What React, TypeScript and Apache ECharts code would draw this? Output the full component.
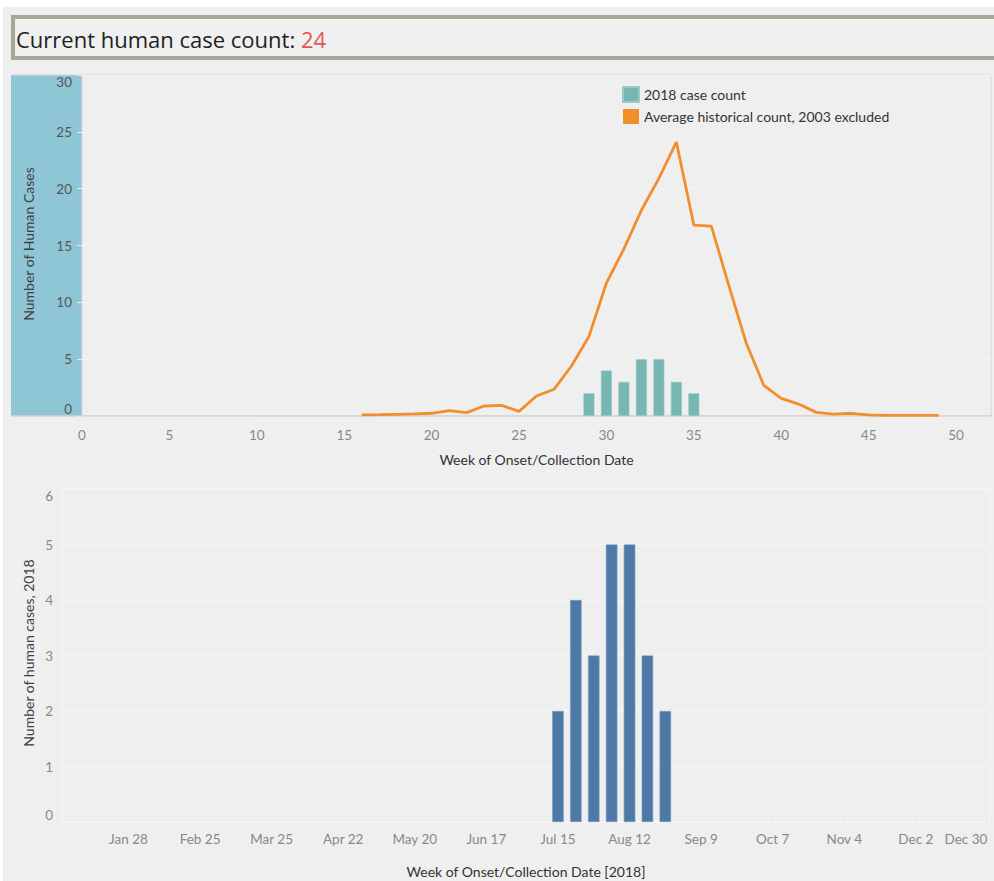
import React, { useEffect, useRef } from "react";
import * as echarts from "echarts";

// ---- Data ----
const caseTotal = 24;

// Top chart: week numbers
const histWeeks = [16, 17, 18, 19, 20, 21, 22, 23, 24, 25, 26, 27, 28, 29, 30, 31, 32, 33, 34, 35, 36, 37, 38, 39, 40, 41, 42, 43, 44, 45, 46, 47, 48, 49];
const histAvg = [0.1, 0.12, 0.15, 0.18, 0.24, 0.47, 0.3, 0.88, 0.94, 0.41, 1.76, 2.35, 4.4, 7.0, 11.7, 14.7, 18.1, 20.9, 24.1, 16.8, 16.7, 11.5, 6.4, 2.7, 1.55, 1.05, 0.32, 0.17, 0.24, 0.1, 0.05, 0.05, 0.05, 0.05];
const weeks2018 = [29, 30, 31, 32, 33, 34, 35];
const cases2018 = [2, 4, 3, 5, 5, 3, 2];

// Bottom chart: week start dates (2018)
const weekDates2018 = ["2018-07-15", "2018-07-22", "2018-07-29", "2018-08-05", "2018-08-12", "2018-08-19", "2018-08-26"];
const dateTickLabels = ["2018-01-28", "2018-02-25", "2018-03-25", "2018-04-22", "2018-05-20", "2018-06-17", "2018-07-15", "2018-08-12", "2018-09-09", "2018-10-07", "2018-11-04", "2018-12-02", "2018-12-30"];
const dateAxisMin = "2018-01-02";
const dateAxisMax = "2018-12-31";

const MONTHS = ["Jan", "Feb", "Mar", "Apr", "May", "Jun", "Jul", "Aug", "Sep", "Oct", "Nov", "Dec"];

const toTs = (s: string) => {
  const [y, m, d] = s.split("-").map(Number);
  return Date.UTC(y, m - 1, d);
};
const fmtDate = (v: number) => {
  const d = new Date(v);
  return MONTHS[d.getUTCMonth()] + " " + d.getUTCDate();
};

const FONT = "Lato, 'Open Sans', sans-serif";
const HEAD_FONT = "'Open Sans', Lato, sans-serif";

export default function App() {
  const ref = useRef<HTMLDivElement>(null);

  useEffect(() => {
    if (!ref.current) return;
    const chart = echarts.init(ref.current, null, { renderer: "svg" });

    const option: any = {
      animation: false,
      backgroundColor: "#ffffff",
      textStyle: { fontFamily: FONT },
      graphic: [
        { type: "rect", z: -10, shape: { x: 3, y: 7, width: 1000, height: 880 }, style: { fill: "#efefef" }, silent: true },
        { type: "rect", z: -9, shape: { x: 13, y: 17, width: 1000, height: 41 }, style: { fill: "#f0f0f0", stroke: "#aba699", lineWidth: 4 }, silent: true },
        {
          type: "text",
          x: 16,
          y: 39,
          style: {
            text: "{a|Current human case count: }{b|" + caseTotal + "}",
            textVerticalAlign: "middle",
            rich: {
              a: { fontSize: 22, fontFamily: HEAD_FONT, fill: "#222222", color: "#222222" },
              b: { fontSize: 22, fontFamily: HEAD_FONT, fill: "#e15759", color: "#e15759" },
            },
          },
        },
        // top band behind y axis
        { type: "rect", z: -8, shape: { x: 11, y: 75, width: 71, height: 341 }, style: { fill: "#8ec6d6" }, silent: true },
        { type: "line", z: -7, shape: { x1: 11, y1: 75, x2: 82, y2: 75 }, style: { stroke: "#d6d6d6", lineWidth: 1 }, silent: true },
        { type: "line", z: -7, shape: { x1: 11, y1: 416, x2: 82, y2: 416 }, style: { stroke: "#d3d3d3", lineWidth: 1.5 }, silent: true },
        {
          type: "text",
          x: 28,
          y: 244,
          rotation: Math.PI / 2,
          style: { text: "Number of Human Cases", fontSize: 14, fontFamily: FONT, fill: "#404040", textAlign: "center", textVerticalAlign: "middle" },
        },
        {
          type: "text",
          x: 28,
          y: 653,
          rotation: Math.PI / 2,
          style: { text: "Number of human cases, 2018", fontSize: 14, fontFamily: FONT, fill: "#404040", textAlign: "center", textVerticalAlign: "middle" },
        },
      ],
      legend: {
        left: 622,
        top: 86,
        padding: 0,
        orient: "vertical",
        itemWidth: 16,
        itemHeight: 15,
        itemGap: 6,
        icon: "rect",
        textStyle: { fontSize: 14, color: "#333333", fontFamily: FONT },
        data: [
          { name: "2018 case count", icon: "rect", itemStyle: { color: "#76b7b2" } },
          { name: "Average historical count, 2003 excluded", icon: "rect", itemStyle: { color: "#f28e2b" } },
        ],
      },
      grid: [
        { left: 82, top: 75, width: 909, height: 341, show: true, borderColor: "#d6d6d6", borderWidth: 1, backgroundColor: "transparent" },
        { left: 62, top: 489, width: 928, height: 333, show: true, borderColor: "#f6f6f6", borderWidth: 1, backgroundColor: "transparent" },
      ],
      xAxis: [
        {
          gridIndex: 0,
          type: "value",
          min: 0,
          max: 52,
          interval: 5,
          name: "Week of Onset/Collection Date",
          nameLocation: "middle",
          nameGap: 36,
          nameTextStyle: { fontSize: 14, color: "#333333", fontFamily: FONT },
          axisLine: { show: true, lineStyle: { color: "#d3d3d3", width: 1.5 } },
          axisTick: { show: false },
          splitLine: { show: false },
          axisLabel: { fontSize: 13.5, color: "#888888", margin: 12, showMaxLabel: false, fontFamily: FONT },
        },
        {
          gridIndex: 1,
          type: "value",
          min: toTs(dateAxisMin),
          max: toTs(dateAxisMax),
          name: "Week of Onset/Collection Date [2018]",
          nameLocation: "middle",
          nameGap: 42,
          nameTextStyle: { fontSize: 14, color: "#333333", fontFamily: FONT },
          axisLine: { show: true, lineStyle: { color: "#f7f7f7", width: 1 } },
          axisTick: { show: true, customValues: dateTickLabels.map(toTs), length: 3, inside: true, lineStyle: { color: "#e4e4e4" } },
          splitLine: { show: false },
          axisLabel: {
            customValues: dateTickLabels.map(toTs),
            formatter: (v: number) => fmtDate(v),
            fontSize: 13.5,
            color: "#888888",
            margin: 10,
            alignMaxLabel: "right",
            fontFamily: FONT,
          },
        },
      ],
      yAxis: [
        {
          gridIndex: 0,
          type: "value",
          min: 0,
          max: 30,
          interval: 5,
          axisLine: { show: false },
          axisTick: { show: true, length: 5, lineStyle: { color: "#d8eef4" } },
          splitLine: { show: true, lineStyle: { color: "#f4f4f4", width: 1 } },
          axisLabel: { fontSize: 13.5, color: "#555555", margin: 10, verticalAlignMinLabel: "bottom", verticalAlignMaxLabel: "top", fontFamily: FONT },
        },
        {
          gridIndex: 1,
          type: "value",
          min: 0,
          max: 6,
          interval: 1,
          axisLine: { show: false },
          axisTick: { show: false },
          splitLine: { show: true, lineStyle: { color: "#f6f6f6", width: 1 } },
          axisLabel: { fontSize: 13.5, color: "#888888", margin: 9, verticalAlignMinLabel: "bottom", verticalAlignMaxLabel: "top", fontFamily: FONT },
        },
      ],
      series: [
        {
          name: "2018 case count",
          type: "bar",
          xAxisIndex: 0,
          yAxisIndex: 0,
          barWidth: 11,
          itemStyle: { color: "#76b7b2", borderColor: "#9ccbc7", borderWidth: 0.6 },
          data: weeks2018.map((w, i) => [w, cases2018[i]]),
          z: 2,
        },
        {
          name: "Average historical count, 2003 excluded",
          type: "line",
          xAxisIndex: 0,
          yAxisIndex: 0,
          showSymbol: false,
          symbol: "none",
          lineStyle: { color: "#f28e2b", width: 2.8 },
          itemStyle: { color: "#f28e2b" },
          data: histWeeks.map((w, i) => [w, histAvg[i]]),
          z: 3,
        },
        {
          name: "2018 weekly",
          type: "bar",
          xAxisIndex: 1,
          yAxisIndex: 1,
          barWidth: 11.5,
          itemStyle: { color: "#4e79a7", borderColor: "#7a9cc2", borderWidth: 0.6 },
          data: weekDates2018.map((d, i) => [toTs(d), cases2018[i]]),
        },
      ],
    };

    chart.setOption(option);
    return () => chart.dispose();
  }, []);

  return (
    <div
      ref={ref}
      style={{ position: "absolute", left: 0, top: 0, width: 994, height: 881 }}
    />
  );
}
